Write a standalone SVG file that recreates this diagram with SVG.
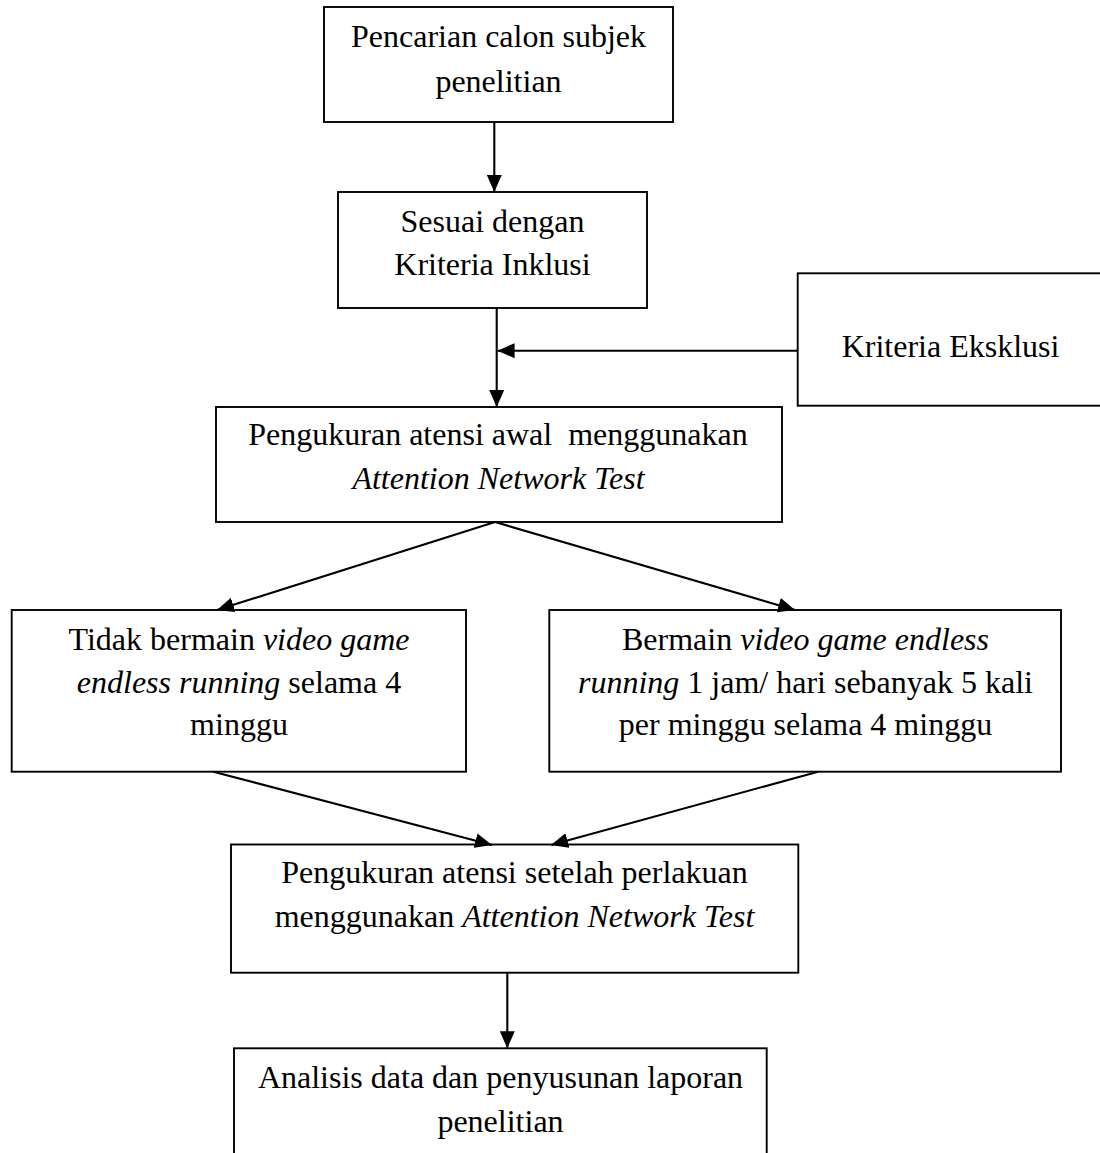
<svg xmlns="http://www.w3.org/2000/svg" width="1100" height="1153" viewBox="0 0 1100 1153">
  <style>
    .box { fill: #ffffff; stroke: #000000; stroke-width: 1.9; }
    .lbl { font-family: "Liberation Serif", "Times New Roman", serif; font-size: 32px; fill: #000000; text-anchor: middle; }
    .it { font-style: italic; }
    .conn { fill: none; stroke: #000000; stroke-width: 2.1; marker-end: url(#arrow); }
  </style>
  <defs>
    <marker id="arrow" markerUnits="userSpaceOnUse" markerWidth="17" markerHeight="15" refX="17" refY="7.5" orient="auto">
      <path d="M0,0 L17,7.5 L0,15 z" fill="#000000"/>
    </marker>
  </defs>
  <rect x="0" y="0" width="1100" height="1153" fill="#ffffff"/>

  <g id="n1">
    <rect class="box" x="324" y="7" width="349" height="115"/>
    <text class="lbl" x="498.5" y="46.7">Pencarian calon subjek</text>
    <text class="lbl" x="498.5" y="91.7">penelitian</text>
  </g>

  <g id="n2">
    <rect class="box" x="338" y="192" width="309" height="116"/>
    <text class="lbl" x="492.5" y="231.7">Sesuai dengan</text>
    <text class="lbl" x="492.5" y="275">Kriteria Inklusi</text>
  </g>

  <g id="n3">
    <rect class="box" x="797.7" y="273.3" width="330" height="132.4"/>
    <text class="lbl" x="950.5" y="356.7">Kriteria Eksklusi</text>
  </g>

  <g id="n4">
    <rect class="box" x="216" y="407" width="566" height="115"/>
    <text class="lbl" x="498" y="445" xml:space="preserve">Pengukuran atensi awal  menggunakan</text>
    <text class="lbl it" x="498.5" y="489.3">Attention Network Test</text>
  </g>

  <g id="n5">
    <rect class="box" x="11.7" y="610" width="454.3" height="161.7"/>
    <text class="lbl" x="239" y="650">Tidak bermain <tspan class="it">video game</tspan></text>
    <text class="lbl" x="239" y="692.5"><tspan class="it">endless running</tspan> selama 4</text>
    <text class="lbl" x="239" y="735">minggu</text>
  </g>

  <g id="n6">
    <rect class="box" x="549.3" y="610" width="511.7" height="161.7"/>
    <text class="lbl" x="805.5" y="650">Bermain <tspan class="it">video game endless</tspan></text>
    <text class="lbl" x="805.5" y="692.5"><tspan class="it">running</tspan> 1 jam/ hari sebanyak 5 kali</text>
    <text class="lbl" x="805.5" y="735">per minggu selama 4 minggu</text>
  </g>

  <g id="n7">
    <rect class="box" x="231" y="844.5" width="567.3" height="128.2"/>
    <text class="lbl" x="514.5" y="883.3">Pengukuran atensi setelah perlakuan</text>
    <text class="lbl" x="514.5" y="926.7">menggunakan <tspan class="it">Attention Network Test</tspan></text>
  </g>

  <g id="n8">
    <rect class="box" x="234" y="1048.3" width="532.7" height="120"/>
    <text class="lbl" x="500.5" y="1088.3">Analisis data dan penyusunan laporan</text>
    <text class="lbl" x="500.5" y="1131.7">penelitian</text>
  </g>

  <g id="connectors">
    <line class="conn" x1="494.3" y1="122" x2="494.3" y2="192"/>
    <line class="conn" x1="496.7" y1="308" x2="496.7" y2="407"/>
    <line class="conn" x1="797.7" y1="350.7" x2="497.6" y2="350.7"/>
    <line class="conn" x1="495" y1="522" x2="217" y2="610"/>
    <line class="conn" x1="495" y1="522" x2="795" y2="610"/>
    <line class="conn" x1="213.3" y1="771.7" x2="492" y2="845"/>
    <line class="conn" x1="818" y1="771.7" x2="551" y2="845"/>
    <line class="conn" x1="507.3" y1="972.7" x2="507.3" y2="1048.3"/>
  </g>
</svg>
